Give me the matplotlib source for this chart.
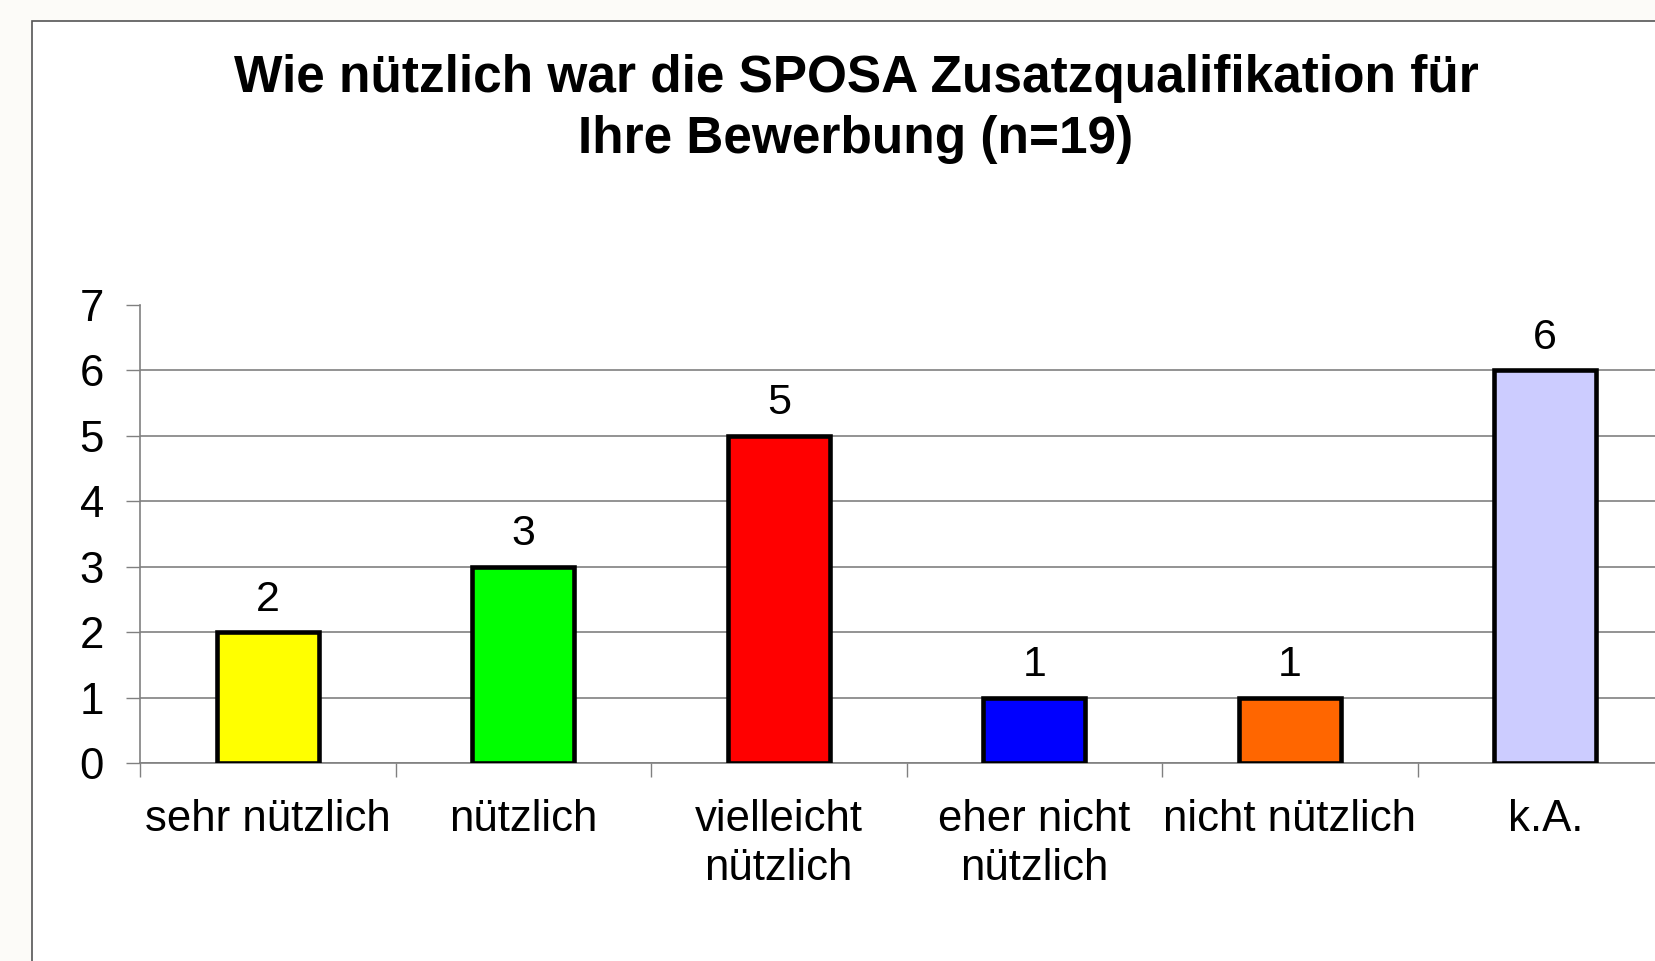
import matplotlib.pyplot as plt
from matplotlib.patches import Rectangle

categories = ['sehr nützlich', 'nützlich', 'vielleicht\nnützlich',
              'eher nicht\nnützlich', 'nicht nützlich', 'k.A.']
counts = [2, 3, 5, 1, 1, 6]
colors = ['#FFFF00', '#00FF00', '#FF0000', '#0000FF', '#FF6600', '#CCCCFF']
yticks = [0, 1, 2, 3, 4, 5, 6, 7]
title = 'Wie nützlich war die SPOSA Zusatzqualifikation für\nIhre Bewerbung (n=19)'

plt.rcParams['font.family'] = ['Liberation Sans', 'DejaVu Sans']

W, H = 1655, 961
fig = plt.figure(figsize=(W / 100, H / 100), dpi=100)
fig.patch.set_facecolor('#fcfbf8')

# white chart area with grey frame (runs off the right and bottom edges)
fig.patches.append(Rectangle((32 / W, -0.1), 1.2, 1 - 21 / H + 0.1,
                             transform=fig.transFigure, facecolor='white',
                             edgecolor='#555555', linewidth=1.2, zorder=-5))

fig.text(856 / W, 1 - 109 / H, title, ha='center', va='center',
         fontsize=37, fontweight='bold', linespacing=1.3)

ax = fig.add_axes([140 / W, 1 - 763 / H, (1673 - 140) / W, (763 - 305) / H])
ax.set_facecolor('none')

x = list(range(len(categories)))
bars = ax.bar(x, counts, width=0.4, color=colors, edgecolor='black',
              linewidth=3.3, zorder=3)
for bar, v in zip(bars, counts):
    ax.annotate(str(v), (bar.get_x() + bar.get_width() / 2, v),
                xytext=(0, 9), textcoords='offset points',
                ha='center', va='bottom', fontsize=31)

ax.set_xlim(-0.5, len(categories) - 0.5)
ax.set_ylim(0, 7)
ax.set_yticks(yticks)
ax.set_xticks([i - 0.5 for i in x], minor=False)
ax.set_xticklabels([])
ax.set_xticks(x, minor=True)
ax.set_xticklabels(categories, minor=True, fontsize=31.5, linespacing=1.26)
ax.tick_params(axis='x', which='minor', length=0, pad=26)
ax.tick_params(axis='x', which='major', length=10, width=1, color='#808080',
               direction='out')
ax.tick_params(axis='y', length=10, width=1, color='#808080', pad=16,
               labelsize=31.5)

ax.yaxis.grid(True, color='#808080', linewidth=1.2, zorder=0)
ax.get_ygridlines()[-1].set_visible(False)
ax.set_axisbelow(True)

for s in ['top', 'right']:
    ax.spines[s].set_visible(False)
for s in ['left', 'bottom']:
    ax.spines[s].set_color('#808080')
    ax.spines[s].set_linewidth(1.2)

fig.savefig('out.png', dpi=100, facecolor=fig.get_facecolor())
